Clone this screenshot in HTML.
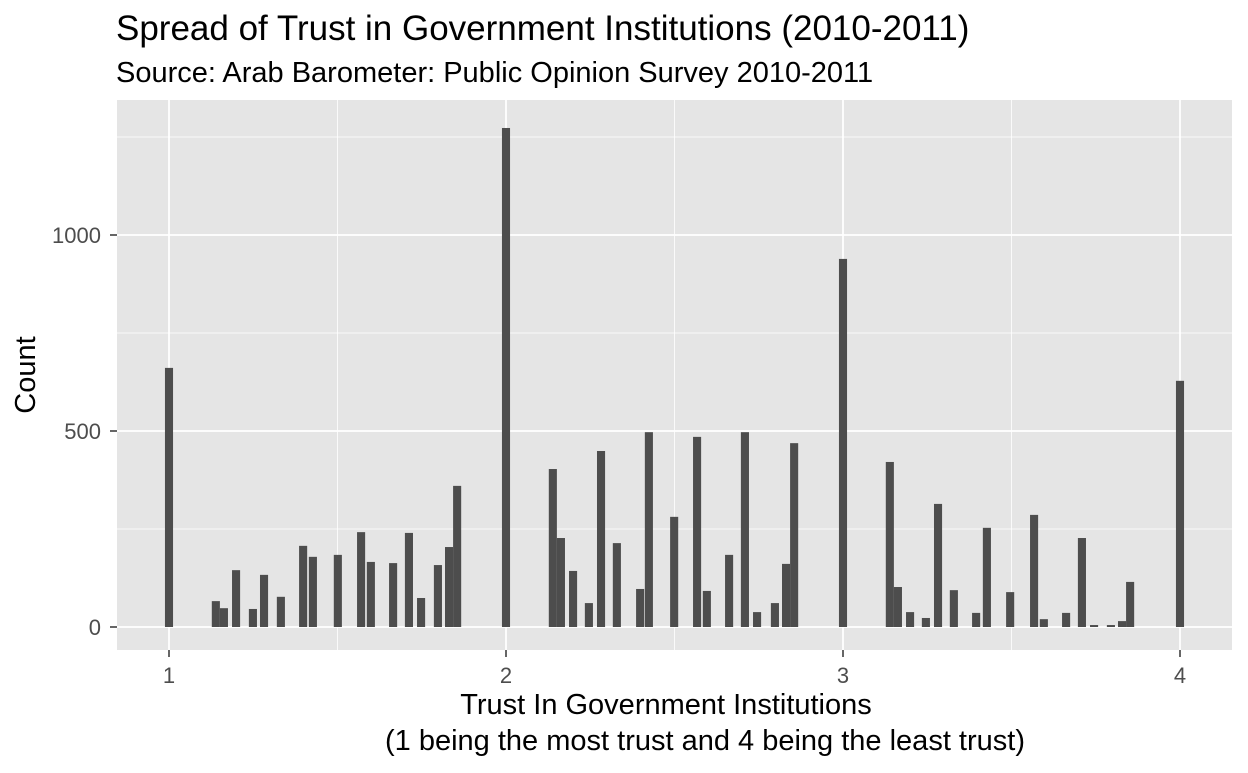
<!DOCTYPE html>
<html><head><meta charset="utf-8"><style>
body{margin:0;background:#fff;font-family:"Liberation Sans",Arial,sans-serif}
svg text{font-family:"Liberation Sans",Arial,sans-serif}
</style></head><body>
<svg id="chart" width="1248" height="768">
<text x="116" y="40" font-size="35" fill="#000">Spread of Trust in Government Institutions (2010-2011)</text>
<text x="116" y="82" font-size="29" fill="#000">Source: Arab Barometer: Public Opinion Survey 2010-2011</text>
<rect x="117" y="100" width="1115" height="550" fill="#e5e5e5"/>
<g id="grid"></g><g id="bars"></g><g id="axes"></g>
<text x="666" y="714" font-size="29" text-anchor="middle">Trust In Government Institutions</text>
<text x="705" y="750" font-size="29" text-anchor="middle">(1 being the most trust and 4 being the least trust)</text>
<text transform="translate(35,375) rotate(-90)" font-size="29" text-anchor="middle">Count</text>
</svg>
<script>
const xValues=[1,1.139,1.163,1.199,1.249,1.282,1.332,1.398,1.427,1.501,1.570,1.599,1.665,1.712,1.748,1.798,1.831,1.855,2,2.139,2.163,2.199,2.246,2.282,2.329,2.398,2.424,2.499,2.567,2.596,2.662,2.709,2.745,2.798,2.831,2.855,3,3.139,3.163,3.199,3.246,3.282,3.329,3.395,3.427,3.496,3.567,3.596,3.662,3.709,3.745,3.795,3.828,3.852,4];
const counts=[661,66,48,145,46,133,77,207,179,184,242,166,163,240,74,158,204,360,1273,403,227,143,61,449,214,97,497,281,485,92,184,497,38,61,161,469,939,421,102,38,23,314,94,36,253,89,286,20,36,227,5,5,15,115,628];
const xTicks=[1,2,3,4];
const xMinor=[1.5,2.5,3.5];
const yTicks=[0,500,1000];
const yMinor=[250,750,1250];
const ns="http://www.w3.org/2000/svg";
const X=v=>169+(v-1)*337;
const Y=v=>627-v*0.392;
function mk(tag,attrs,parent,txt){const e=document.createElementNS(ns,tag);for(const k in attrs)e.setAttribute(k,attrs[k]);if(txt!==undefined)e.textContent=txt;document.getElementById(parent).appendChild(e);return e;}
yMinor.forEach(v=>{const e=mk('line',{x1:117,x2:1232,y1:Y(v),y2:Y(v),stroke:'#fff','stroke-width':0.8},'grid');

});
xMinor.forEach(v=>{const e=mk('line',{x1:X(v),x2:X(v),y1:100,y2:650,stroke:'#fff','stroke-width':0.8},'grid');

});
yTicks.forEach(v=>{const e=mk('line',{x1:117,x2:1232,y1:Y(v),y2:Y(v),stroke:'#fff','stroke-width':1.8},'grid');


const t=mk('text',{x:101,y:Y(v)+8,'font-size':22,fill:'#4d4d4d','text-anchor':'end'},'axes',String(v));


const k=mk('line',{x1:110,x2:117,y1:Y(v),y2:Y(v),stroke:'#333','stroke-width':1.5},'axes');

});
xTicks.forEach(v=>{const e=mk('line',{x1:X(v),x2:X(v),y1:100,y2:650,stroke:'#fff','stroke-width':1.8},'grid');


const t=mk('text',{x:X(v),y:683,'font-size':22,fill:'#4d4d4d','text-anchor':'middle'},'axes',String(v));


const k=mk('line',{x1:X(v),x2:X(v),y1:650,y2:657,stroke:'#333','stroke-width':1.5},'axes');

});
const bw=0.024*337;
xValues.forEach((v,i)=>{const b=mk('rect',{x:X(v)-bw/2,y:Y(counts[i]),width:bw,height:Y(0)-Y(counts[i]),fill:'#4d4d4d'},'bars');

});
</script>
</body></html>
